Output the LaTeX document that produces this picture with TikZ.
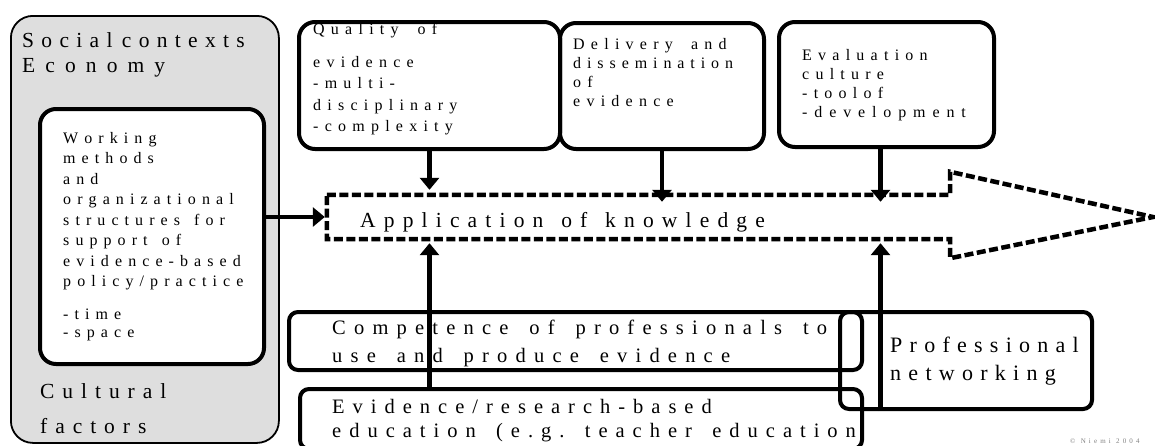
\documentclass[tikz,border=0pt]{standalone}
\usepackage{fontspec}
\setmainfont{Liberation Serif}
\ExplSyntaxOn
\NewDocumentCommand \ltr { O{0.39em} O{0.6em} m }
 {
  \str_map_inline:nn {#3}
   {
    \tl_if_blank:nTF {##1} { \hspace{#2} } { ##1 \kern #1 }
   }
 }
\ExplSyntaxOff
\usetikzlibrary{arrows.meta}

\begin{document}
\begin{tikzpicture}[x=1pt,y=-1pt,
  heavybox/.style={draw,line width=4pt,rounded corners=16pt,inner sep=0pt,anchor=north west},
  slimbox/.style={draw,line width=4pt,rounded corners=9pt,inner sep=0pt,anchor=north west},
  lbl/.style={anchor=base west,inner sep=0pt,align=left,text width=560pt},
  feed/.style={line width=4.5pt,-{Triangle[length=12pt,width=19pt]}},
  flow/.style={line width=4.5pt,dash pattern=on 9pt off 3.5pt}]
  \useasboundingbox (0,0) rectangle (1155,445);
  \node [heavybox,line width=1.8pt,rounded corners=22pt,fill=black!13,minimum width=268pt,minimum height=427pt] (ctx) at (10,15) {};
  \node [lbl,font=\fontsize{21.5pt}{25pt}\selectfont] (socl) at (22,47) {\ltr[0.34em][0.1em]{Social contexts}\\\ltr[0.47em]{Economy}};
  \node [lbl,font=\fontsize{21.5pt}{35pt}\selectfont] (cult) at (40,398) {\ltr[0.37em]{Cultural}\\\ltr[0.37em]{factors}};
  \node [heavybox,fill=white,minimum width=224pt,minimum height=255pt] (work) at (38,107) {};
  \node [lbl,font=\fontsize{16pt}{20.5pt}\selectfont] (worktxt) at (63,143) {\ltr[0.38em][0.5em]{Working}\\\ltr[0.38em]{methods}\\\ltr[0.38em]{and}\\\ltr[0.38em]{organizational}\\\ltr[0.38em][0.5em]{structures for}\\\ltr[0.38em][0.5em]{support of}\\\ltr[0.38em]{evidence-based}\\\ltr[0.38em]{policy/practice}};
  \node [lbl,font=\fontsize{16pt}{18pt}\selectfont] (worklist) at (63,319) {\ltr[0.38em]{-time}\\\ltr[0.38em]{-space}};
  \node [heavybox,minimum width=261pt,minimum height=127pt] (qual) at (297,20) {};
  \node [heavybox,minimum width=204pt,minimum height=126pt] (deliv) at (558,21) {};
  \node [heavybox,minimum width=215pt,minimum height=125pt] (evalu) at (777,20) {};
  \node [lbl,font=\fontsize{16pt}{20pt}\selectfont] (qualtop) at (313,34) {\ltr[0.39em][0.8em]{Quality of}};
  \node [lbl,font=\fontsize{16pt}{21.5pt}\selectfont] (qualtxt) at (313,67) {\ltr{evidence}\\\ltr{-multi-}\\\ltr{disciplinary}\\\ltr{-complexity}};
  \node [lbl,font=\fontsize{16pt}{19pt}\selectfont] (delivtxt) at (573,49) {\ltr[0.39em][0.75em]{Delivery and}\\\ltr[0.37em]{dissemination}\\\ltr{of}\\\ltr{evidence}};
  \node [lbl,font=\fontsize{16pt}{19pt}\selectfont] (evaltxt) at (802,60) {\ltr{Evaluation}\\\ltr{culture}\\\ltr{-toolof}\\\ltr[0.43em]{-development}};
  \node [inner sep=0pt,minimum width=623pt,minimum height=44pt] (app) at (638.5,217) {};
  \coordinate (tip) at (1153,217);
  \coordinate (evx) at ([xshift=-6pt]evalu.south);
  \draw [flow] (app.north west) -- (app.north east) -- ([yshift=23pt]app.north east) -- (tip)
    -- ([yshift=-19pt]app.south east) -- (app.south east) -- (app.south west) -- cycle;
  \node [lbl,font=\fontsize{21.5pt}{24pt}\selectfont] (apptxt) at (360,227) {\ltr[0.38em][0.45em]{Application of knowledge}};
  \draw [feed,line width=3.5pt,shorten >=2pt] (work.east |- app.west) -- (app.west);
  \draw [feed,shorten >=5pt] (qual.south) -- (qual.south |- app.north);
  \draw [feed,shorten >=-7pt] (deliv.south) -- (deliv.south |- app.north);
  \draw [feed,shorten >=-7pt] (evx) -- (evx |- app.north);
  \node [slimbox,minimum width=573pt,minimum height=58pt] (comp) at (287,310) {};
  \node [slimbox,minimum width=562pt,minimum height=60pt] (evid) at (298,387) {};
  \node [slimbox,minimum width=252pt,minimum height=97pt] (prof) at (838,310) {};
  \node [lbl,font=\fontsize{20.5pt}{28pt}\selectfont] (comptxt) at (332,334) {\ltr[0.4em][0.62em]{Competence of professionals to}\\\ltr[0.4em][0.62em]{use and produce evidence}};
  \node [lbl,font=\fontsize{20.5pt}{24pt}\selectfont] (evidtxt) at (332,413) {\ltr{Evidence/research-based}\\\ltr{education (e.g. teacher education}};
  \node [lbl,font=\fontsize{22pt}{28pt}\selectfont] (proftxt) at (890,352) {\ltr[0.33em]{Professional}\\\ltr[0.33em]{networking}};
  \draw [feed,shorten >=4pt] (evid.north -| qual.south) -- (app.south -| qual.south);
  \draw [feed,shorten >=4pt] (prof.south -| evx) -- (app.south -| evx);
  \node [lbl,font=\fontsize{7pt}{8pt}\selectfont,text=gray] (copy) at (1070,443) {\ltr[0.45em][0.3em]{© Niemi 2004}};
\end{tikzpicture}
\end{document}
